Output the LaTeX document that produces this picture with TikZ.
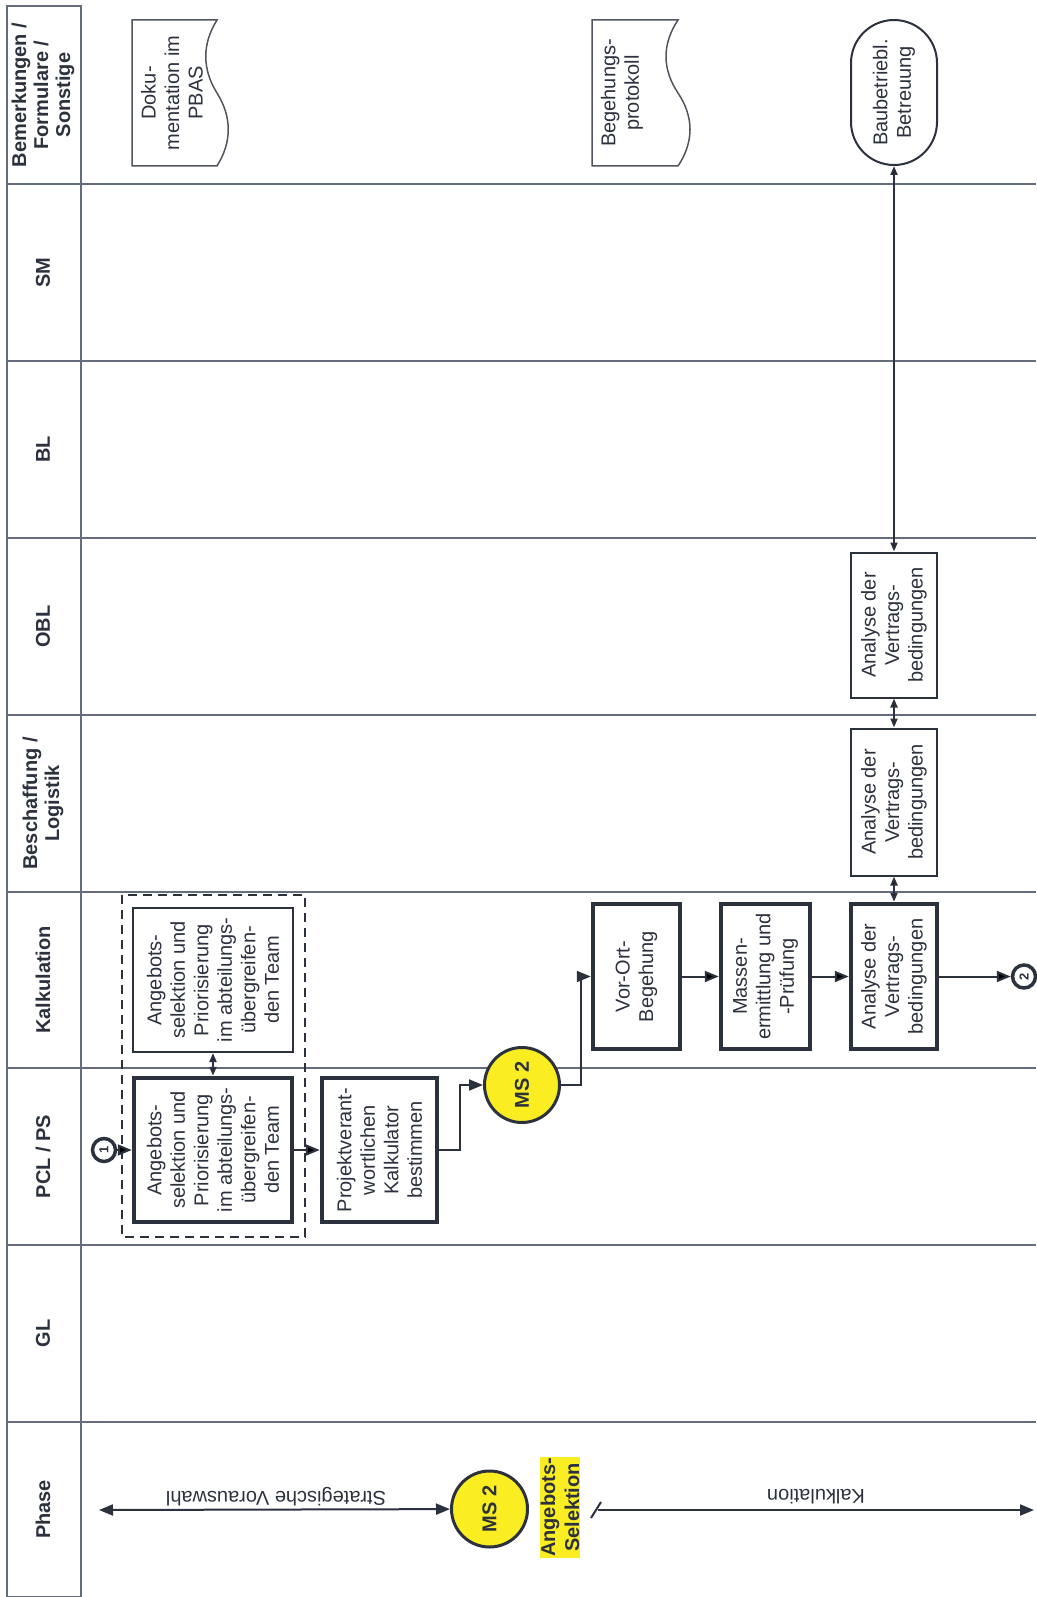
\documentclass[tikz,border=0pt]{standalone}
\usepackage{fontspec}
\setmainfont{Liberation Sans}
\usetikzlibrary{arrows.meta,calc,positioning}
\definecolor{lanegray}{RGB}{100,108,126}
\definecolor{inkgray}{RGB}{44,49,62}
\definecolor{docgray}{RGB}{80,84,92}
\definecolor{msyellow}{RGB}{250,238,35}

\begin{document}
\begin{tikzpicture}[x=1pt,y=-1pt,>={Triangle[length=14pt,width=11pt]},
    every node/.style={text=inkgray},
    txt/.style={font=\fontsize{20}{23.5}\selectfont},
    head/.style={rotate=90,align=center,font=\bfseries\fontsize{20}{22}\selectfont},
    task/.style={txt,draw=inkgray,rotate=90,align=center,inner sep=0pt,line width=2pt},
    key/.style={task,line width=4.5pt},
    con/.style={draw=inkgray,line width=2pt},
    both/.style={{Triangle[length=9pt,width=7pt]}-{Triangle[length=9pt,width=7pt]}},
    ms/.style={circle,draw=inkgray,fill=msyellow,line width=3pt,minimum size=75pt,inner sep=0pt,rotate=90,font=\bfseries\fontsize{20}{24}\selectfont},
    jump/.style={circle,draw=inkgray,fill=white,line width=3.5pt,minimum size=23pt,inner sep=0pt,rotate=90,font=\bfseries\fontsize{13}{13}\selectfont}]
\useasboundingbox (0,0) rectangle (1036,1597);
% lanes
\draw[lanegray,line width=1.5pt] (7,6) rectangle (81,1597);
\foreach \y in {184,361,538,715,892,1068,1245,1422}
  \draw[lanegray,line width=1.5pt] (7,\y) -- (1036,\y);
\node[head] (hBem) at (43,95) {Bemerkungen /\\Formulare /\\Sonstige};
\node[head] (hBes) at (43,803.5) {Beschaffung /\\Logistik};
\node[head] (hPCL) at (43,1156.5) {PCL / PS};
\foreach \y/\name in {272.5/SM,449.5/BL,626.5/OBL,980/Kalkulation,1333.5/GL,1509.5/Phase}
  \node[head] at (43,\y) {\name};

% documents
\draw[docgray,line width=1.5pt] (132,20) -- (217,20) .. controls (202,44) and (202,69) .. (217,93)
  .. controls (232,117) and (232,142) .. (217,166) -- (132,166) -- cycle;
\node[txt,rotate=90,align=center] (doku) at (172,93) {Doku-\\mentation im\\PBAS};
\draw[docgray,line width=1.5pt] (592,20) -- (678,20) .. controls (662,44) and (662,69) .. (678,93)
  .. controls (694,117) and (694,142) .. (678,166) -- (592,166) -- cycle;
\node[txt,rotate=90,align=center] (begeh) at (622,93) {Begehungs-\\protokoll};

% tasks
\draw[inkgray,line width=2pt,dash pattern=on 9pt off 6pt] (122,895) rectangle (305,1237);
\node[task,minimum width=144,minimum height=160] (angK) at (213,980) {Angebots-\\selektion und\\Priorisierung\\im abteilungs-\\übergreifen-\\den Team};
\node[key,minimum width=144,minimum height=158] (angP) at (213,1150) {Angebots-\\selektion und\\Priorisierung\\im abteilungs-\\übergreifen-\\den Team};
\node[key,minimum width=144,minimum height=115] (proj) at (379.5,1150) {Projektverant-\\wortlichen\\Kalkulator\\bestimmen};
\node[ms] (ms) at (522,1085) {MS 2};
\node[key,minimum width=145,minimum height=87] (vor) at (636.5,976.5) {Vor-Ort-\\Begehung};
\node[key,minimum width=145,minimum height=89] (mass) at (765.5,976.5) {Massen-\\ermittlung und\\-Prüfung};
\node[key,minimum width=145,minimum height=86] (anaK) at (894,976.5) {Analyse der\\Vertrags-\\bedingungen};
\node[task,minimum width=147,minimum height=86] (anaB) at (894,802) {Analyse der\\Vertrags-\\bedingungen};
\node[task,minimum width=145,minimum height=86] (anaO) at (894,625) {Analyse der\\Vertrags-\\bedingungen};
\node[task,rounded corners=43,minimum width=145,minimum height=86] (bau) at (894,92.5) {Baubetriebl.\\Betreuung};
\node[jump] (j1) at (104,1150) {1};
\node[jump] (j2) at (1024,976.5) {2};

\path[con,->]
  (j1) edge (angP)
  (angP) edge (proj)
  (vor) edge (mass)
  (mass) edge (anaK)
  (anaK) edge (j2);
\path[con]
  (angK) edge[both] (angP)
  (anaK) edge[both] (anaB)
  (anaB) edge[both] (anaO)
  (anaO) edge[both] (bau);
\draw[con,->] (proj.south) -- ++(21,0) |- (ms);
\draw[con,->] (ms.south) -- ++(19.5,0) |- (vor);

% phase
\node[ms,minimum size=76pt] (ms0) at (489.5,1509) {MS 2};
\node[rotate=90,align=center,fill=msyellow,inner sep=1pt,font=\bfseries\fontsize{20}{24}\selectfont] (sel) at (560,1507.5) {Angebots-\\Selektion};
\coordinate (pl) at (99,1510);
\coordinate (ps) at (598,1510);
\coordinate (pr) at (1034,1510);
\draw[con,<->] (pl) -- (ms0);
\draw[con,->] (ps) -- (pr);
\draw[con] (591,1518) -- (601,1502);
\node[txt,rotate=180] (strat) at (276,1497) {Strategische Vorauswahl};
\node[txt,rotate=180] (kalk) at (816,1497) {Kalkulation};
\end{tikzpicture}
\end{document}
